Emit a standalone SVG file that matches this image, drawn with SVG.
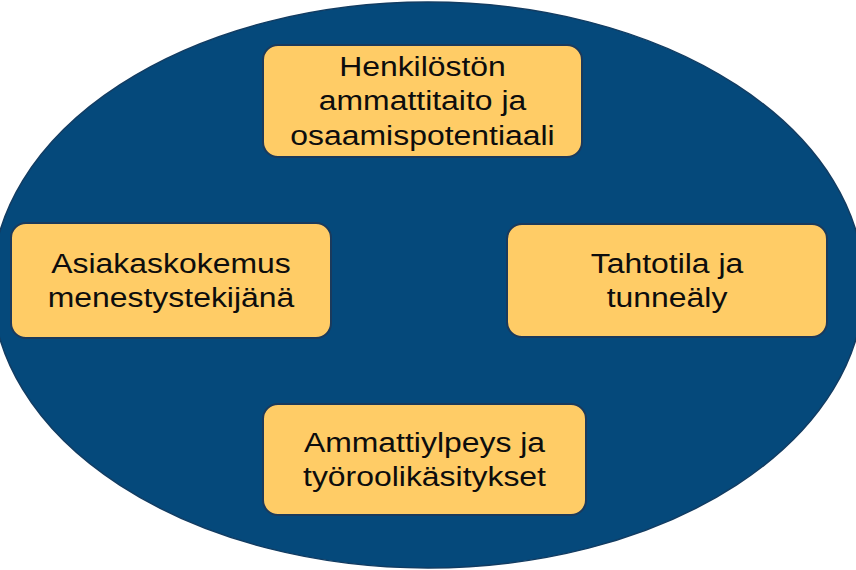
<svg xmlns="http://www.w3.org/2000/svg" width="856" height="570" viewBox="0 0 856 570">
<style>
.bg{fill:#05497b;stroke:#123c62;stroke-width:1.5}
.box{fill:#ffcc66;stroke:#1b3a5c;stroke-width:2}
.lbl{font-family:"Liberation Sans",Arial,sans-serif;font-size:28px;fill:#0d0d0d;text-anchor:middle}
</style>
<rect width="856" height="570" fill="#ffffff"/>
<ellipse class="bg" cx="428" cy="285" rx="436" ry="283"/>
<g id="connectors"></g>
<g id="node-top">
<rect class="box" x="263" y="45" width="319" height="112" rx="15"/>
<g transform="translate(422.5,0) scale(1.14,1)">
<text class="lbl" x="0" y="76">Henkilöstön</text>
<text class="lbl" x="0" y="110.5">ammattitaito ja</text>
<text class="lbl" x="0" y="145">osaamispotentiaali</text>
</g>
</g>
<g id="node-left">
<rect class="box" x="11" y="223" width="320" height="115" rx="15"/>
<g transform="translate(171,0) scale(1.14,1)">
<text class="lbl" x="0" y="273">Asiakaskokemus</text>
<text class="lbl" x="0" y="307.5">menestystekijänä</text>
</g>
</g>
<g id="node-right">
<rect class="box" x="507" y="224" width="320" height="113" rx="15"/>
<g transform="translate(667,0) scale(1.14,1)">
<text class="lbl" x="0" y="273">Tahtotila ja</text>
<text class="lbl" x="0" y="307.5">tunneäly</text>
</g>
</g>
<g id="node-bottom">
<rect class="box" x="263" y="404" width="323" height="111" rx="15"/>
<g transform="translate(424.5,0) scale(1.14,1)">
<text class="lbl" x="0" y="452">Ammattiylpeys ja</text>
<text class="lbl" x="0" y="486.5">työroolikäsitykset</text>
</g>
</g>
</svg>
